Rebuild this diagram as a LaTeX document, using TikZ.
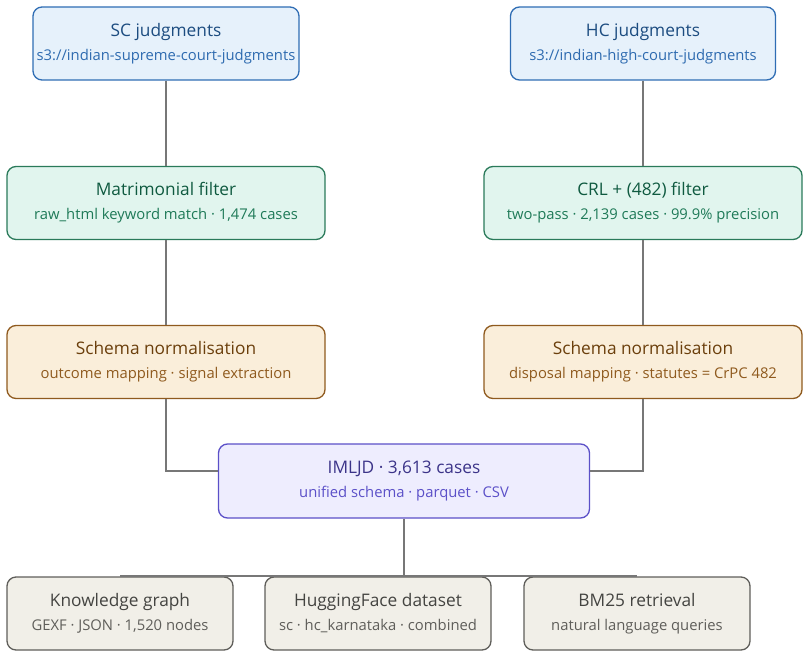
\documentclass[tikz,border=0pt]{standalone}
\usepackage{fontspec}
\setmainfont{Open Sans}
\usetikzlibrary{calc}
\definecolor{bfill}{HTML}{E6F1FB}\definecolor{bdraw}{HTML}{2F6DB4}\definecolor{btitle}{HTML}{1C4C80}\definecolor{bsub}{HTML}{2E6BB0}
\definecolor{gfill}{HTML}{E1F5EE}\definecolor{gdraw}{HTML}{2A7A5A}\definecolor{gtitle}{HTML}{0F5A40}\definecolor{gsub}{HTML}{1F7A58}
\definecolor{ofill}{HTML}{FAEEDA}\definecolor{odraw}{HTML}{8F5A1E}\definecolor{otitle}{HTML}{6B3F0C}\definecolor{osub}{HTML}{8F5A1E}
\definecolor{pfill}{HTML}{EEEDFE}\definecolor{pdraw}{HTML}{5B50C8}\definecolor{ptitle}{HTML}{3C3489}\definecolor{psub}{HTML}{5B50C8}
\definecolor{kfill}{HTML}{F1EFE8}\definecolor{kdraw}{HTML}{5F5E5A}\definecolor{ktitle}{HTML}{444441}\definecolor{ksub}{HTML}{5F5E5A}
\definecolor{conn}{HTML}{777777}
\newcommand{\bx}[3]{{\fontsize{17.3}{24}\selectfont\color{#1}#2}\\#3}
\begin{document}
\begin{tikzpicture}[x=1pt,y=-1pt,
  card/.style={rounded corners=9pt, line width=1.3pt, minimum height=73pt, align=center, inner sep=0pt, font=\fontsize{14.8}{24}\selectfont},
  blue/.style={card, fill=bfill, draw=bdraw, text=bsub},
  green/.style={card, fill=gfill, draw=gdraw, text=gsub},
  orange/.style={card, fill=ofill, draw=odraw, text=osub},
  purple/.style={card, fill=pfill, draw=pdraw, text=psub},
  grey/.style={card, fill=kfill, draw=kdraw, text=ksub},
  link/.style={draw=conn, line width=1.6pt}]
\useasboundingbox (0,0) rectangle (810,658);
\node[blue, minimum width=266pt] (sc) at (166,43.5) {\bx{btitle}{SC judgments}{s3://indian-supreme-court-judgments}};
\node[blue, minimum width=265pt] (hc) at (643,43.5) {\bx{btitle}{HC judgments}{s3://indian-high-court-judgments}};
\node[green, minimum width=318pt] (mat) at (166,203) {\bx{gtitle}{Matrimonial filter}{raw\_html keyword match · 1,474 cases}};
\node[green, minimum width=318pt] (crl) at (643,203) {\bx{gtitle}{CRL + (482) filter}{two-pass · 2,139 cases · 99.9\% precision}};
\node[orange, minimum width=318pt] (schl) at (166,362) {\bx{otitle}{Schema normalisation}{outcome mapping · signal extraction}};
\node[orange, minimum width=318pt] (schr) at (643,362) {\bx{otitle}{Schema normalisation}{disposal mapping · statutes = CrPC 482}};
\node[purple, minimum width=371pt, minimum height=74pt] (imljd) at (404,481) {\bx{ptitle}{IMLJD · 3,613 cases}{unified schema · parquet · CSV}};
\node[grey, minimum width=226pt] (kg) at (120,613.5) {\bx{ktitle}{Knowledge graph}{GEXF · JSON · 1,520 nodes}};
\node[grey, minimum width=226pt] (hf) at (378,613.5) {\bx{ktitle}{HuggingFace dataset}{sc · hc\_karnataka · combined}};
\node[grey, minimum width=226pt] (bm) at (637,613.5) {\bx{ktitle}{BM25 retrieval}{natural language queries}};
\draw[link] (sc) -- (mat);
\draw[link] (hc) -- (crl);
\draw[link] (mat) -- (schl);
\draw[link] (crl) -- (schr);
\draw[link] (schl.south) |- ([yshift=10pt]imljd.west);
\draw[link] (schr.south) |- ([yshift=10pt]imljd.east);
\coordinate (bus) at ($(imljd.south |- kg.north)+(0,-0.5)$);
\draw[link] (imljd.south) -- (bus);
\draw[link] ($(kg.north)+(0,-0.5)$) -- ($(bm.north)+(0,-0.5)$);
\end{tikzpicture}
\end{document}
